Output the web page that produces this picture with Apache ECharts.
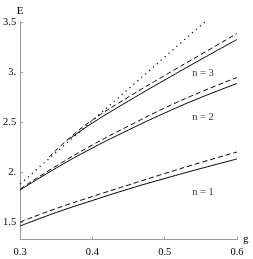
<!DOCTYPE html>
<html><head><meta charset="utf-8">
<script src="https://cdn.jsdelivr.net/npm/echarts@6/dist/echarts.min.js"></script>
<style>html,body{margin:0;padding:0;background:#fff}#c{width:253px;height:259px}</style>
</head><body><div id="c"></div>
<script>
const gVals = [0.3, 0.35, 0.4, 0.45, 0.5, 0.55, 0.6];
const n1Solid = [1.46, 1.595, 1.715, 1.83, 1.935, 2.035, 2.13];
const n1Dashed = [1.50, 1.635, 1.755, 1.87, 1.985, 2.095, 2.20];
const n2Solid = [1.82, 2.04, 2.24, 2.42, 2.59, 2.745, 2.885];
const n2Dashed = [1.83, 2.06, 2.27, 2.46, 2.64, 2.80, 2.945];
const n3SolidG = [0.368, 0.4, 0.45, 0.5, 0.55, 0.6];
const n3Solid = [2.33, 2.49, 2.71, 2.92, 3.125, 3.325];
const n3DashedG = [0.34, 0.37, 0.4, 0.45, 0.5, 0.55, 0.6];
const n3Dashed = [2.15, 2.35, 2.52, 2.75, 2.965, 3.175, 3.385];
const dottedG = [0.3, 0.56];
const dottedE = [1.88, 3.53];
const yTickValues = [1.5, 2, 2.5, 3, 3.5];
const yTickLabels = ["1.5", "2.", "2.5", "3.", "3.5"];
const xTickLabels = ["0.3", "0.4", "0.5", "0.6"];
const curveLabels = ["n = 1", "n = 2", "n = 3"];
const curveLabelPos = [[0.553, 1.80], [0.553, 2.55], [0.553, 2.99]];

const zip = (xs, ys) => xs.map((x, i) => [x, ys[i]]);
const font = "Liberation Serif";
const lineBase = (data, type, width) => ({
  type: 'line', data, smooth: true, symbol: 'none', silent: true,
  lineStyle: {color: '#000', width: width || 1, type}
});

const chart = echarts.init(document.getElementById('c'));
chart.setOption({
  animation: false,
  grid: {left: 18, right: 16, top: 22, bottom: 19.5},
  xAxis: {
    type: 'value', min: 0.3, max: 0.6, interval: 0.1,
    name: 'g', nameLocation: 'end', nameGap: 6,
    nameTextStyle: {fontFamily: font, fontSize: 11, color: '#000', verticalAlign: 'middle'},
    axisLine: {lineStyle: {color: '#999', width: 1}},
    axisTick: {inside: true, length: 3, lineStyle: {color: '#999'}},
    axisLabel: {fontFamily: font, fontSize: 10.5, color: '#000', margin: 7,
      formatter: v => xTickLabels[Math.round((v - 0.3) * 10)] || ''},
    splitLine: {show: false}
  },
  yAxis: {
    type: 'value', min: 1.325, max: 3.5,
    name: 'E', nameLocation: 'end', nameGap: 4,
    nameTextStyle: {fontFamily: font, fontSize: 11, color: '#000', align: 'center'},
    axisLine: {show: true, lineStyle: {color: '#999', width: 1}},
    axisTick: {show: true, inside: true, length: 3, lineStyle: {color: '#999'}, customValues: yTickValues},
    axisLabel: {fontFamily: font, fontSize: 10.5, color: '#000', margin: 4, customValues: yTickValues,
      formatter: v => { const i = yTickValues.findIndex(t => Math.abs(t - v) < 1e-6); return i >= 0 ? yTickLabels[i] : ''; }},
    splitLine: {show: false}
  },
  series: [
    lineBase(zip(gVals, n1Solid), 'solid'),
    lineBase(zip(gVals, n1Dashed), [5, 3]),
    lineBase(zip(gVals, n2Solid), 'solid'),
    lineBase(zip(gVals, n2Dashed), [5, 3]),
    lineBase(zip(n3SolidG, n3Solid), 'solid'),
    lineBase(zip(n3DashedG, n3Dashed), [5, 3]),
    Object.assign(lineBase(zip(dottedG, dottedE), [1.2, 4], 1.2), {smooth: false}),
    {
      type: 'scatter', symbolSize: 0, silent: true,
      data: curveLabelPos.map((p, i) => ({value: p, name: curveLabels[i]})),
      label: {show: true, position: 'inside', formatter: p => p.name,
        fontFamily: font, fontSize: 10.5, color: '#000'}
    }
  ]
});
</script></body></html>
